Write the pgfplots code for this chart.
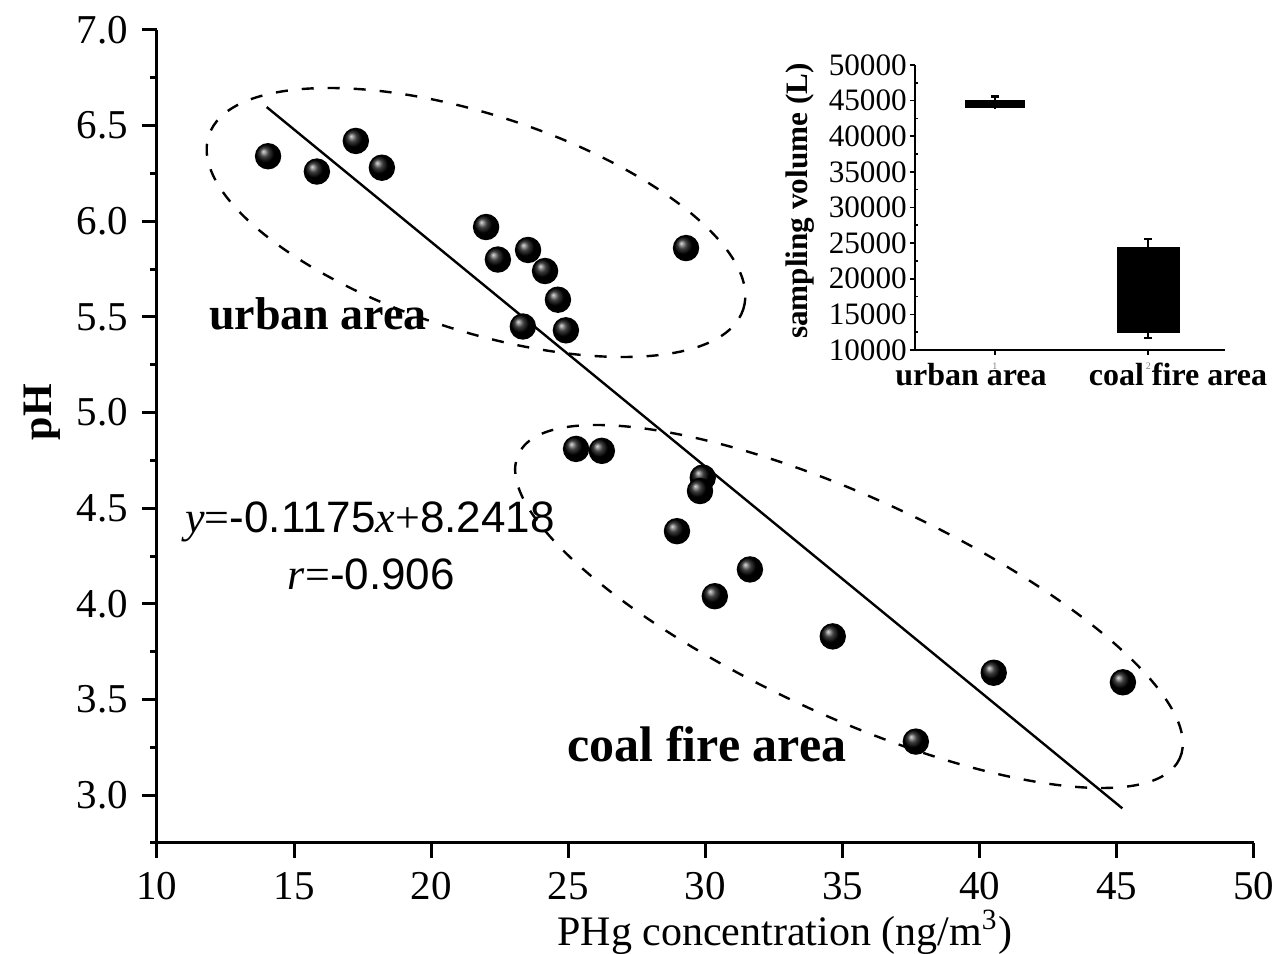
\documentclass[border=0pt]{standalone}
\usepackage{pgfplots}
\pgfplotsset{compat=1.18}
\usepackage{fontspec}
\setmainfont{Liberation Serif}
\setsansfont{Liberation Sans}
\begin{document}
\begin{tikzpicture}
\useasboundingbox (-39.25pt,-27.75pt) rectangle (280.5pt,210.75pt);
% main axis
\begin{axis}[
  at={(0,0)}, anchor=south west,
  width=274.25pt, height=203.25pt, scale only axis,
  xmin=10, xmax=50, ymin=2.75, ymax=7.0,
  axis x line*=bottom, axis y line*=left,
  axis line style={line width=0.75pt},
  xtick={10,15,20,25,30,35,40,45,50}, ytick={3,3.5,4,4.5,5,5.5,6,6.5,7},
  minor ytick={2.75,3.25,3.75,4.25,4.75,5.25,5.75,6.25,6.75},
  tick align=outside,
  major tick length=3.75pt, minor tick length=1.75pt,
  every tick/.style={black, line width=0.75pt},
  /pgf/number format/assume math mode=true,
  tick label style={font=\fontsize{10.25}{12}\selectfont},
  yticklabel style={/pgf/number format/.cd, fixed, fixed zerofill, precision=1},
  clip=false,
]
\addplot[black, line width=0.6pt, mark=none] coordinates {(14.0,6.597) (45.2,2.931)};
\addplot[only marks, mark=ball, mark size=3.1pt, mark options={ball color=black}] coordinates {
(14.05,6.34) (15.83,6.26) (17.25,6.42) (18.20,6.28) (22.0,5.97) (22.43,5.80)
(23.53,5.85) (24.15,5.74) (24.62,5.59) (23.34,5.45) (24.91,5.43) (29.29,5.86)
(25.28,4.81) (26.22,4.80) (29.9,4.66) (29.8,4.59) (28.96,4.38) (31.62,4.18)
(30.34,4.04) (34.64,3.83) (40.51,3.64) (45.22,3.59) (37.67,3.28)
};
\end{axis}
% ellipses
\draw[dash pattern=on 3pt off 3.5pt, line width=0.6pt, rotate around={-18:(79.75pt,155.125pt)}] (79.75pt,155.125pt) ellipse [x radius=70.25pt, y radius=27pt];
\draw[dash pattern=on 3pt off 3.5pt, line width=0.6pt, rotate around={-24.7:(173pt,59.125pt)}] (173pt,59.125pt) ellipse [x radius=91pt, y radius=27.25pt];
% texts
\node[font=\fontsize{10.5}{12}\selectfont] at (157pt,-22.25pt) {PHg concentration (ng/m\textsuperscript{3})};
\node[font=\fontsize{10.5}{12}\selectfont\bfseries, rotate=90] at (-28.75pt,107.75pt) {pH};
\node[font=\fontsize{11.5}{13}\selectfont\bfseries, anchor=base] at (40.25pt,128.25pt) {urban area};
\node[font=\fontsize{12.5}{14}\selectfont\bfseries, anchor=base] at (137.5pt,20.25pt) {coal fire area};
\node[font=\fontsize{11}{13}\selectfont, anchor=base] at (53.25pt,77.5pt) {\textit{y}=\textsf{-0.1175}\textit{x}+\textsf{8.2418}};
\node[font=\fontsize{11}{13}\selectfont, anchor=base] at (53.6pt,63.25pt) {\textit{r}=\textsf{-0.906}};
% inset
\begin{axis}[
  at={(189.5pt,123.25pt)}, anchor=south west,
  width=77.5pt, height=71.25pt, scale only axis,
  xmin=0.48, xmax=2.5, ymin=10000, ymax=50000,
  axis x line*=bottom, axis y line*=left,
  axis line style={line width=0.45pt},
  ytick={10000,15000,20000,25000,30000,35000,40000,45000,50000},
  minor ytick={12500,17500,22500,27500,32500,37500,42500,47500},
  scaled y ticks=false,
  /pgf/number format/assume math mode=true,
  yticklabel style={font=\fontsize{7.8}{9}\selectfont, inner xsep=0.6pt, /pgf/number format/.cd, fixed, 1000 sep={}},
  xtick={1,2}, xticklabels={1,2},
  xticklabel style={font=\fontsize{2.5}{3}\selectfont, gray, yshift=1.5pt},
  tick align=outside,
  major tick length=1.25pt, minor tick length=0.8pt,
  every tick/.style={black, line width=0.4pt},
  minor y tick style={xshift=0.8pt},
  clip=false,
]
% urban area box and whiskers
\addplot[fill=black, draw=black, line width=0.5pt] coordinates {(0.81,44100) (1.19,44100) (1.19,45000) (0.81,45000)} -- cycle;
\addplot[black, line width=0.6pt] coordinates {(1,43850) (1,45600)};
\addplot[black, line width=0.6pt] coordinates {(0.975,45600) (1.025,45600)};
% coal fire area box and whiskers
\addplot[fill=black, draw=black, line width=0.5pt] coordinates {(1.80,12530) (2.20,12530) (2.20,24320) (1.80,24320)} -- cycle;
\addplot[black, line width=0.6pt] coordinates {(2,11690) (2,25580)};
\addplot[black, line width=0.6pt] coordinates {(1.975,25580) (2.025,25580)};
\addplot[black, line width=0.6pt] coordinates {(1.975,11690) (2.025,11690)};
\end{axis}
\node[font=\fontsize{7.8}{9}\selectfont\bfseries, rotate=90] at (160.75pt,160.5pt) {sampling volume (L)};
\node[font=\fontsize{8}{9}\selectfont\bfseries, anchor=base] at (203.5pt,114.25pt) {urban area};
\node[font=\fontsize{8}{9}\selectfont\bfseries, anchor=base] at (255.25pt,114.25pt) {coal fire area};
\end{tikzpicture}
\end{document}
